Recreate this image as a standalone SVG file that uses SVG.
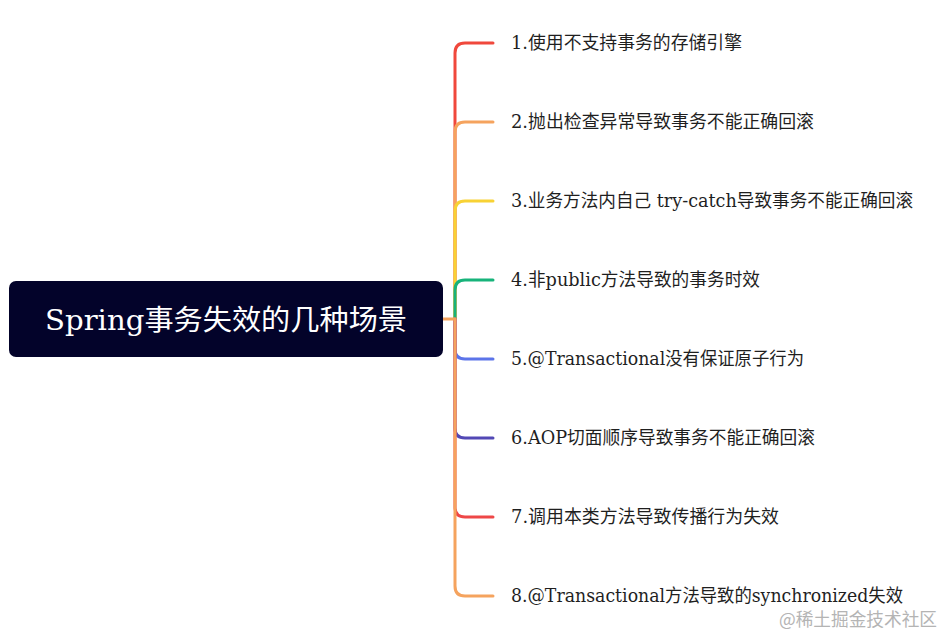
<svg xmlns="http://www.w3.org/2000/svg" width="943" height="636" viewBox="0 0 943 636">
<style>
.lbl{font-family:"DejaVu Serif","Noto Sans CJK SC",serif;font-size:18px;fill:#1f1f1f}
.title{font-family:"DejaVu Serif","Noto Sans CJK SC",serif;font-size:28px;fill:#ffffff}
.br{fill:none;stroke-width:3;stroke-linecap:round}
.wm{font-family:"Noto Sans CJK SC",sans-serif;font-size:18px;fill:#b4b4b4}
</style>
<rect width="943" height="636" fill="#ffffff"/>
<g id="connectors">
<path class="br" stroke="#F0483C" d="M455,319 V53 Q455,43 465,43 H493"/>
<path class="br" stroke="#F5A35E" d="M455,319 V132 Q455,122 465,122 H493"/>
<path class="br" stroke="#F8D234" d="M455,319 V211 Q455,201 465,201 H493"/>
<path class="br" stroke="#17B37A" d="M455,319 V290 Q455,280 465,280 H493"/>
<path class="br" stroke="#5C74E9" d="M455,319 V349 Q455,359 465,359 H493"/>
<path class="br" stroke="#5248B5" d="M455,319 V428 Q455,438 465,438 H493"/>
<path class="br" stroke="#EE4747" d="M455,319 V507 Q455,517 465,517 H493"/>
<path class="br" stroke="#F5A35E" d="M455,319 V586 Q455,596 465,596 H493"/>
<path class="br" stroke="#F5A35E" d="M443,319 H455"/>
</g>
<g id="root">
<rect x="9" y="281" width="434" height="76" rx="7" fill="#03032A"/>
<text class="title" x="226" y="330" text-anchor="middle" textLength="362" lengthAdjust="spacingAndGlyphs">Spring事务失效的几种场景</text>
</g>
<g id="n1"><text class="lbl" x="511" y="49" textLength="231" lengthAdjust="spacingAndGlyphs">1.使用不支持事务的存储引擎</text></g>
<g id="n2"><text class="lbl" x="511" y="128" textLength="303" lengthAdjust="spacingAndGlyphs">2.抛出检查异常导致事务不能正确回滚</text></g>
<g id="n3"><text class="lbl" x="511" y="207" textLength="402" lengthAdjust="spacingAndGlyphs">3.业务方法内自己 try-catch导致事务不能正确回滚</text></g>
<g id="n4"><text class="lbl" x="511" y="286" textLength="249" lengthAdjust="spacingAndGlyphs">4.非public方法导致的事务时效</text></g>
<g id="n5"><text class="lbl" x="511" y="365" textLength="293" lengthAdjust="spacingAndGlyphs">5.@Transactional没有保证原子行为</text></g>
<g id="n6"><text class="lbl" x="511" y="444" textLength="304" lengthAdjust="spacingAndGlyphs">6.AOP切面顺序导致事务不能正确回滚</text></g>
<g id="n7"><text class="lbl" x="511" y="523" textLength="268" lengthAdjust="spacingAndGlyphs">7.调用本类方法导致传播行为失效</text></g>
<g id="n8"><text class="lbl" x="511" y="602" textLength="392" lengthAdjust="spacingAndGlyphs">8.@Transactional方法导致的synchronized失效</text></g>
<text class="wm" x="779" y="626" textLength="158" lengthAdjust="spacingAndGlyphs">@稀土掘金技术社区</text>
</svg>
